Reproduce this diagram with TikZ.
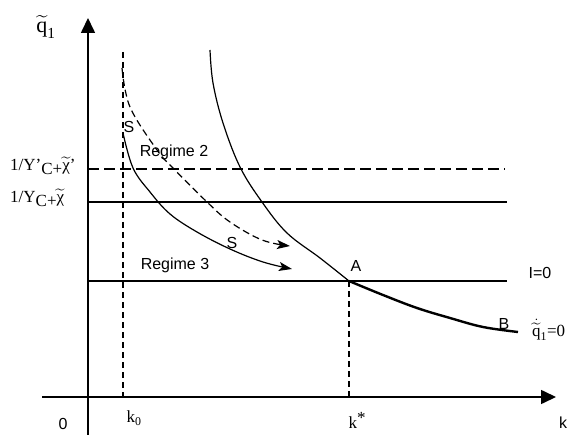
\documentclass[tikz,border=0pt]{standalone}
\usepackage{amsmath}
\usepackage{fontspec}
\setmainfont{Liberation Serif}
\newfontfamily\arialf{Liberation Sans}
\usetikzlibrary{arrows.meta}

\begin{document}
\begin{tikzpicture}[x=1pt, y=-1pt,
  axis/.style={line width=1.6pt, -{Triangle[length=15pt,width=14pt]}},
  thin/.style={line width=1.2pt},
  dsh/.style={thin, dash pattern=on 6pt off 4pt},
  ldsh/.style={thin, dash pattern=on 11pt off 5pt},
  arr/.style={thin, -{Stealth[length=13pt,width=9pt,inset=3pt]}},
  lbl/.style={font=\arialf\fontsize{16}{18}\selectfont, inner sep=0pt},
  mlbl/.style={font=\fontsize{17}{19}\selectfont, inner sep=0pt},
]
  \useasboundingbox (0,0) rectangle (569,435);

  % axes
  \coordinate (ybot) at (88,435);
  \coordinate (ytop) at (88,18);
  \coordinate (xleft) at (42,397);
  \coordinate (xright) at (556,397);
  \draw[axis] (ybot) -- (ytop);
  \draw[axis] (xleft) -- (xright);

  \node[mlbl, font=\fontsize{22}{24}\selectfont] (qlab) at (46,27)
    {$\widetilde{\text{q}}_{\text{1}}$};
  \node[lbl] (zero) at (63,424) {0};
  \node[lbl] (klab) at (563,423) {k};

  % levels
  \coordinate (lev2) at (88,169);  \coordinate (lev2e) at (505,169);
  \coordinate (lev1) at (88,202);  \coordinate (lev1e) at (507,202);
  \coordinate (lev0) at (88,281);  \coordinate (lev0e) at (507,281);
  \draw[ldsh] (lev2) -- (lev2e);
  \draw[thin] (lev1) -- (lev1e);
  \draw[thin] (lev0) -- (lev0e);

  \node[mlbl, anchor=west] (chi2) at (10,166)
    {1/Υ’\raisebox{-4pt}{C+}$\widetilde{\text{χ}}$’};
  \node[mlbl, anchor=west] (chi1) at (10,198)
    {1/Υ\raisebox{-4pt}{C+}$\widetilde{\text{χ}}$};
  \node[lbl] (izero) at (540,273) {I=0};

  % k0 and k*
  \coordinate (k0top) at (123,52);
  \coordinate (k0bot) at (123,397);
  \draw[dsh] (k0top) -- (k0bot);
  \node[mlbl] (k0lab) at (134,418) {k$_{\text{0}}$};

  \coordinate (A) at (349,281);
  \coordinate (kstar) at (349,397);
  \draw[dsh] (A) -- (kstar);
  \node[mlbl] (kslab) at (357,420) {k\raisebox{5pt}{*}};

  % qdot = 0 curve
  \draw[thin] plot[smooth, tension=0.6] coordinates {(210,50) (213,83) (223,123)
    (240,167) (262,202) (287,233) (320,258) (349,281)};
  \draw[line width=2.4pt] plot[smooth, tension=0.6] coordinates {(349,281)
    (383,295) (417,308) (450,318) (483,327) (518,332)};
  \node[lbl] (alab) at (356,266) {A};
  \node[lbl] (blab) at (504,324) {B};
  \node[mlbl, anchor=west] (qdot) at (532,330) {$\dot{\widetilde{\text{q}}}_{\text{1}}$=0};

  % saddle paths
  \draw[arr, dash pattern=on 7pt off 4pt] plot[smooth, tension=0.6] coordinates {(122,68)
    (130,107) (157,150) (172,167) (207,202) (230,222) (262,240) (290,246)};
  \draw[arr] plot[smooth, tension=0.6] coordinates {(123,133) (133,168)
    (150,192) (170,214) (197,232) (230,249) (263,262) (292,269)};
  \node[lbl] (s1) at (129,127) {S};
  \node[lbl] (s2) at (232,243) {S};
  \node[lbl] (reg2) at (174,152) {Regime 2};
  \node[lbl] (reg3) at (175,265) {Regime 3};
\end{tikzpicture}
\end{document}
